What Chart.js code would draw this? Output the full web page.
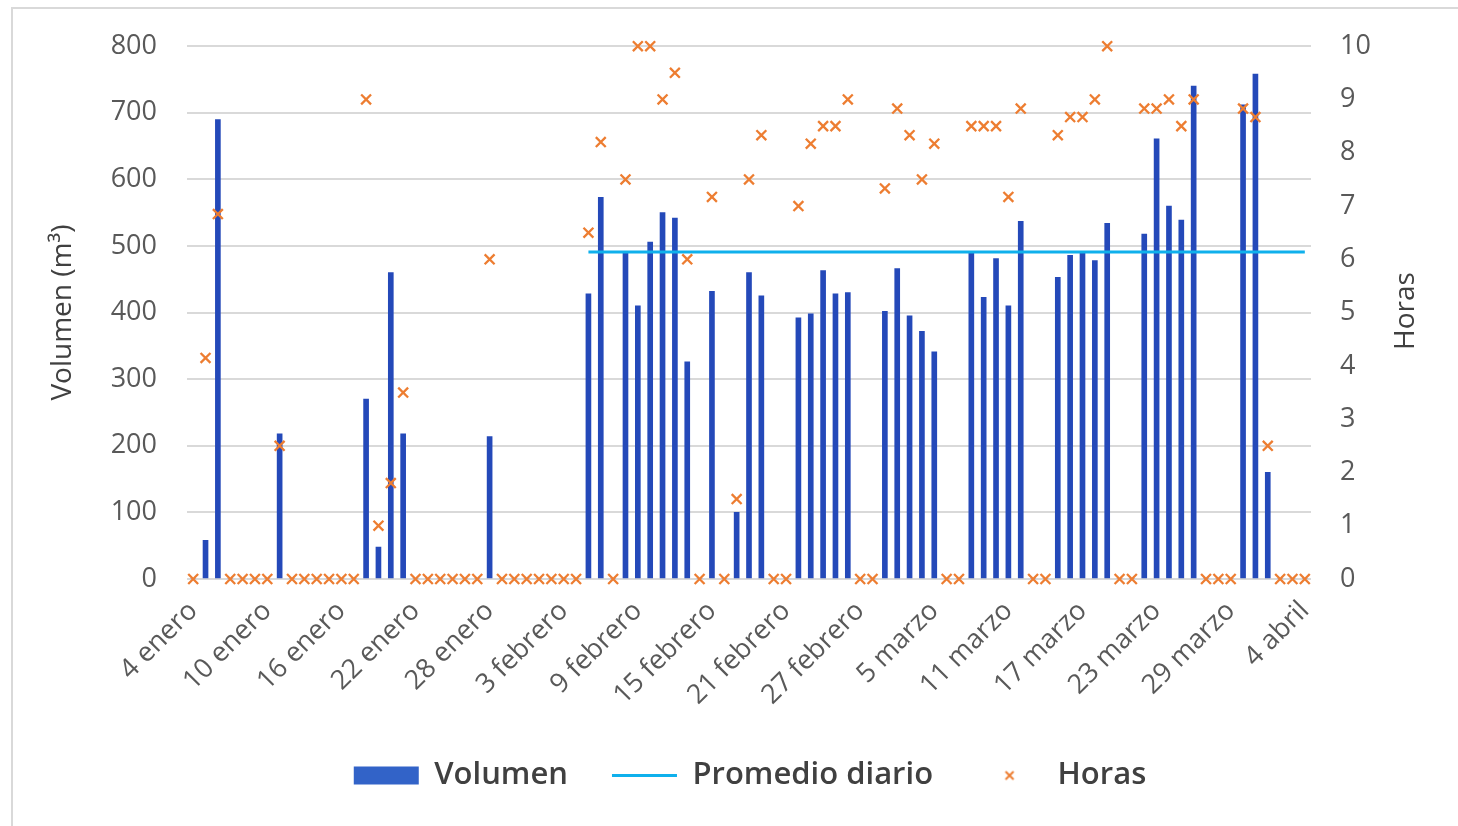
<!DOCTYPE html>
<html lang="es">
<head>
<meta charset="utf-8">
<title>Volumen y horas diarias</title>
<script src="https://cdn.jsdelivr.net/npm/chart.js@4.4.1/dist/chart.umd.min.js"></script>
<style>
  html, body { margin: 0; padding: 0; background: #fff; }
  #marco { position: relative; width: 1458px; height: 826px; overflow: hidden; }
  #borde { position: absolute; left: 11px; top: 7px; right: -4px; bottom: -4px; border: 2px solid #d9d9d9; }
  canvas { position: absolute; left: 0; top: 0; }
</style>
</head>
<body>
<div id="marco">
  <div id="borde"></div>
  <canvas id="grafico" width="1458" height="826"></canvas>
</div>
<script>
// categorias: un dia por barra, del 4 de enero al 4 de abril
const dias = [
  '4 enero','5 enero','6 enero','7 enero','8 enero','9 enero','10 enero','11 enero','12 enero','13 enero',
  '14 enero','15 enero','16 enero','17 enero','18 enero','19 enero','20 enero','21 enero','22 enero','23 enero',
  '24 enero','25 enero','26 enero','27 enero','28 enero','29 enero','30 enero','31 enero',
  '1 febrero','2 febrero','3 febrero','4 febrero','5 febrero','6 febrero','7 febrero','8 febrero','9 febrero',
  '10 febrero','11 febrero','12 febrero','13 febrero','14 febrero','15 febrero','16 febrero','17 febrero',
  '18 febrero','19 febrero','20 febrero','21 febrero','22 febrero','23 febrero','24 febrero','25 febrero',
  '26 febrero','27 febrero','28 febrero',
  '1 marzo','2 marzo','3 marzo','4 marzo','5 marzo','6 marzo','7 marzo','8 marzo','9 marzo','10 marzo',
  '11 marzo','12 marzo','13 marzo','14 marzo','15 marzo','16 marzo','17 marzo','18 marzo','19 marzo','20 marzo',
  '21 marzo','22 marzo','23 marzo','24 marzo','25 marzo','26 marzo','27 marzo','28 marzo','29 marzo','30 marzo',
  '31 marzo','1 abril','2 abril','3 abril','4 abril'
];

// etiquetas que se ven en el eje x
const etiquetasEje = ['4 enero','10 enero','16 enero','22 enero','28 enero','3 febrero','9 febrero',
  '15 febrero','21 febrero','27 febrero','5 marzo','11 marzo','17 marzo','23 marzo','29 marzo','4 abril'];

// volumen diario (m3)
const volumen = [
  0, 58, 690, 0, 0, 0, 0, 218, 0, 0,
  0, 0, 0, 0, 270, 48, 460, 218, 0, 0,
  0, 0, 0, 0, 214, 0, 0, 0, 0, 0,
  0, 0, 428, 573, 0, 490, 410, 506, 550, 542,
  326, 0, 432, 0, 100, 460, 425, 0, 0, 392,
  398, 463, 428, 430, 0, 0, 402, 466, 395, 372,
  341, 0, 0, 490, 423, 481, 410, 537, 0, 0,
  453, 486, 491, 478, 534, 0, 0, 518, 661, 560,
  539, 740, 0, 0, 0, 712, 758, 160, 0, 0,
  0
];

// horas de operacion por dia
const horas = [
  0, 4.15, 6.85, 0, 0, 0, 0, 2.5, 0, 0,
  0, 0, 0, 0, 9, 1, 1.8, 3.5, 0, 0,
  0, 0, 0, 0, 6, 0, 0, 0, 0, 0,
  0, 0, 6.5, 8.2, 0, 7.5, 10, 10, 9, 9.5,
  6, 0, 7.17, 0, 1.5, 7.5, 8.33, 0, 0, 7,
  8.17, 8.5, 8.5, 9, 0, 0, 7.33, 8.83, 8.33, 7.5,
  8.17, 0, 0, 8.5, 8.5, 8.5, 7.17, 8.83, 0, 0,
  8.33, 8.67, 8.67, 9, 10, 0, 0, 8.83, 8.83, 9,
  8.5, 9, 0, 0, 0, 8.83, 8.67, 2.5, 0, 0,
  0
];

// promedio diario, dibujado desde el 5 de febrero hasta el final
const promedioDiario = 491;
const promedioTramo = ['5 febrero', '4 abril'];

const ticksVolumen = [0, 800, 100];
const ticksHoras = [0, 10, 1];

const AZUL = '#2449b9';
const AZUL_LEYENDA = '#3263c8';
const CIAN = '#0fb0ec';
const NARANJA = '#ed7d31';
const GRIS_TEXTO = '#595959';
const GRIS_TITULO = '#404040';
const FUENTE = "'Open Sans', 'Noto Sans', sans-serif";

// marca pequeña para la leyenda de Horas
const marcaLeyenda = document.createElement('canvas');
marcaLeyenda.width = 14;
marcaLeyenda.height = 14;
(function() {
    const c = marcaLeyenda.getContext('2d');
    c.strokeStyle = NARANJA;
    c.lineWidth = 2;
    c.beginPath();
    c.moveTo(3, 3); c.lineTo(11, 11);
    c.moveTo(11, 3); c.lineTo(3, 11);
    c.stroke();
})();

const tituloHoras = {
    id: 'tituloHoras',
    afterDraw(chart) {
        const ctx = chart.ctx;
        ctx.save();
        ctx.translate(1406, 311);
        ctx.rotate(-Math.PI / 2);
        ctx.font = '28px ' + FUENTE;
        ctx.fillStyle = GRIS_TITULO;
        ctx.textAlign = 'center';
        ctx.textBaseline = 'middle';
        ctx.fillText('Horas', 0, 0);
        ctx.restore();
    }
};

new Chart(document.getElementById('grafico'), {
    type: 'bar',
    data: {
        labels: dias,
        datasets: [
            {
                label: 'Volumen',
                data: volumen,
                backgroundColor: AZUL,
                borderWidth: 0,
                barThickness: 5,
                yAxisID: 'y',
                order: 3
            },
            {
                type: 'line',
                label: 'Promedio diario',
                data: promedioTramo.map(d => ({ x: d, y: promedioDiario })),
                borderColor: CIAN,
                backgroundColor: CIAN,
                borderWidth: 3,
                pointRadius: 0,
                yAxisID: 'y',
                order: 2
            },
            {
                type: 'line',
                label: 'Horas',
                data: horas,
                showLine: false,
                clip: false,
                pointStyle: 'crossRot',
                pointRadius: 7,
                pointBorderWidth: 2.3,
                borderColor: NARANJA,
                backgroundColor: NARANJA,
                yAxisID: 'y1',
                order: 1
            }
        ]
    },
    options: {
        responsive: false,
        animation: false,
        layout: { padding: { left: 42, right: 0, top: 46, bottom: 25 } },
        scales: {
            x: {
                grid: { display: false },
                border: { display: false },
                afterFit: scale => { scale.height = 137; },
                ticks: {
                    autoSkip: false,
                    minRotation: 45,
                    maxRotation: 45,
                    padding: 8,
                    color: GRIS_TEXTO,
                    font: { family: FUENTE, size: 27 },
                    callback: function(value) {
                        const l = this.getLabelForValue(value);
                        return etiquetasEje.includes(l) ? l : '';
                    }
                }
            },
            y: {
                position: 'left',
                min: ticksVolumen[0],
                max: ticksVolumen[1],
                afterFit: scale => { scale.width = 145; },
                grid: { color: '#d9d9d9', lineWidth: 2, drawTicks: false },
                border: { display: false },
                ticks: {
                    stepSize: ticksVolumen[2],
                    padding: 30,
                    color: GRIS_TEXTO,
                    font: { family: FUENTE, size: 27 }
                },
                title: {
                    display: true,
                    text: 'Volumen (m³)',
                    color: GRIS_TITULO,
                    font: { family: FUENTE, size: 28 }
                }
            },
            y1: {
                position: 'right',
                min: ticksHoras[0],
                max: ticksHoras[1],
                afterFit: scale => { scale.width = 147; },
                grid: { display: false, drawTicks: false },
                border: { display: false },
                ticks: {
                    stepSize: ticksHoras[2],
                    padding: 29,
                    color: GRIS_TEXTO,
                    font: { family: FUENTE, size: 27 }
                }
            }
        },
        plugins: {
            tooltip: { enabled: false },
            legend: {
                position: 'bottom',
                maxHeight: 100,
                labels: {
                    usePointStyle: true,
                    pointStyleWidth: 65,
                    boxHeight: 18,
                    padding: 44,
                    color: GRIS_TITULO,
                    font: { family: FUENTE, size: 31, weight: '600' },
                    sort: (a, b) => a.datasetIndex - b.datasetIndex,
                    generateLabels(chart) {
                        const items = Chart.defaults.plugins.legend.labels.generateLabels(chart);
                        items.forEach(it => {
                            if (it.datasetIndex === 0) {
                                it.pointStyle = 'rect';
                                it.fillStyle = AZUL_LEYENDA;
                                it.lineWidth = 0;
                            } else if (it.datasetIndex === 1) {
                                it.pointStyle = 'line';
                                it.strokeStyle = CIAN;
                                it.lineWidth = 3;
                            } else {
                                it.pointStyle = marcaLeyenda;
                            }
                        });
                        return items;
                    }
                }
            }
        }
    },
    plugins: [tituloHoras]
});
</script>
</body>
</html>
